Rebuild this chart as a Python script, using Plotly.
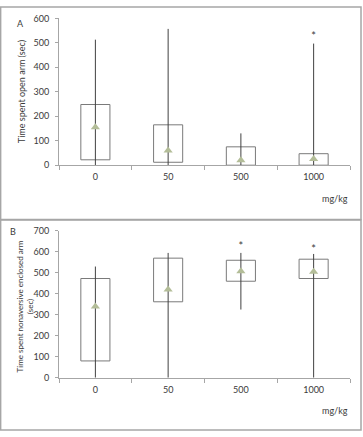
import plotly.graph_objects as go

categories = ["0", "50", "500", "1000"]

# Panel A: time spent in open arm (sec)
a_box_low = [22, 12, 0, 0]
a_box_high = [248, 165, 75, 47]
a_whisk_low = [0, 0, 0, 0]
a_whisk_high = [513, 557, 130, 497]
a_mean = [155, 60, 20, 25]
a_star = [None, None, None, 522]

# Panel B: time spent in nonaversive enclosed arm (sec)
b_box_low = [80, 362, 460, 473]
b_box_high = [473, 570, 560, 565]
b_whisk_low = [0, 0, 325, 0]
b_whisk_high = [530, 595, 595, 590]
b_mean = [340, 420, 507, 505]
b_star = [None, None, 622, 610]

FONT = "Lato"
TXT = "#3a3a3a"
fig = go.Figure()


def add_panel(xa, ya, lo, hi, wlo, whi, mean, star):
    fig.add_trace(go.Bar(
        x=categories, y=[h - l for h, l in zip(hi, lo)], base=lo,
        xaxis=xa, yaxis=ya, width=0.4,
        marker=dict(color="rgba(255,255,255,0)", line=dict(color="#7a7a7a", width=1)),
        showlegend=False, hoverinfo="skip"))
    fig.add_trace(go.Scatter(
        x=categories, y=wlo, xaxis=xa, yaxis=ya, mode="markers",
        marker=dict(size=0.1, color="rgba(0,0,0,0)"),
        error_y=dict(type="data", symmetric=False,
                     array=[h - l for h, l in zip(whi, wlo)],
                     arrayminus=[0] * len(wlo), width=0, color="#404040", thickness=1),
        showlegend=False, hoverinfo="skip"))
    fig.add_trace(go.Scatter(
        x=categories, y=mean, xaxis=xa, yaxis=ya, mode="markers",
        marker=dict(symbol="triangle-up", size=8, color="#b3bd98"),
        showlegend=False))
    fig.add_trace(go.Scatter(
        x=categories, y=star, xaxis=xa, yaxis=ya, mode="text",
        text=["*" if s is not None else "" for s in star],
        textfont=dict(family=FONT, size=11, color=TXT),
        showlegend=False, hoverinfo="skip"))


add_panel("x", "y", a_box_low, a_box_high, a_whisk_low, a_whisk_high, a_mean, a_star)
add_panel("x2", "y2", b_box_low, b_box_high, b_whisk_low, b_whisk_high, b_mean, b_star)

H = 437.0
W = 363.0
L, R = 59.3, 350.0


def ydom(top, bot):
    return [1 - bot / H, 1 - top / H]


def px(x):
    return (x - L) / (R - L)


def py(y):
    return 1 - y / H


xcommon = dict(type="category", showgrid=False, showline=True, linecolor="#a6a6a6",
               linewidth=1, ticks="outside", ticklen=4, tickcolor="#a6a6a6",
               tickson="boundaries", tickfont=dict(family=FONT, size=9, color=TXT),
               ticklabelstandoff=3,
               range=[-0.5, 3.5], fixedrange=True, zeroline=False)
ycommon = dict(showgrid=False, showline=True, linecolor="#a6a6a6", linewidth=1,
               ticks="outside", ticklen=3, tickcolor="#a6a6a6", zeroline=False,
               tickfont=dict(family=FONT, size=9, color=TXT), ticklabelstandoff=4)

fig.update_layout(
    width=363, height=437,
    margin=dict(l=L, r=W - R, t=0, b=0),
    paper_bgcolor="white", plot_bgcolor="white",
    barmode="overlay",
    xaxis=dict(xcommon, domain=[0, 1], anchor="y"),
    yaxis=dict(ycommon, domain=ydom(12.7, 163.3), range=[0, 600], dtick=100, anchor="x"),
    xaxis2=dict(xcommon, domain=[0, 1], anchor="y2"),
    yaxis2=dict(ycommon, domain=ydom(230.7, 381.3), range=[0, 700], dtick=100, anchor="x2"),
)

frame = dict(type="rect", xref="paper", yref="paper", line=dict(color="#a6a6a6", width=1.5),
             fillcolor="rgba(0,0,0,0)")
fig.add_shape(frame, x0=px(1), x1=px(361), y0=py(219), y1=py(1))
fig.add_shape(frame, x0=px(1), x1=px(361), y0=py(435), y1=py(219.5))

ann = dict(xref="paper", yref="paper", showarrow=False, font=dict(family=FONT, size=9, color=TXT))
fig.add_annotation(ann, text="A", x=px(21), y=py(18), xanchor="center", yanchor="middle")
fig.add_annotation(ann, text="B", x=px(13), y=py(231), xanchor="center", yanchor="middle")
fig.add_annotation(ann, text="mg/kg", x=px(335), y=py(197), xanchor="center", yanchor="middle")
fig.add_annotation(ann, text="mg/kg", x=px(335), y=py(415), xanchor="center", yanchor="middle")
fig.add_annotation(ann, text="Time spent open arm (sec)", textangle=-90,
                   x=px(21.7), y=py(88), xanchor="center", yanchor="middle")
fig.add_annotation(ann, text="Time spent nonaversive enclosed arm<br>(sec)", textangle=-90,
                   font=dict(family=FONT, size=8, color=TXT),
                   x=px(25.5), y=py(308), xanchor="center", yanchor="middle")

fig.write_html("out.html", config={"displayModeBar": False},
               post_script="document.body.style.margin='0px';")
